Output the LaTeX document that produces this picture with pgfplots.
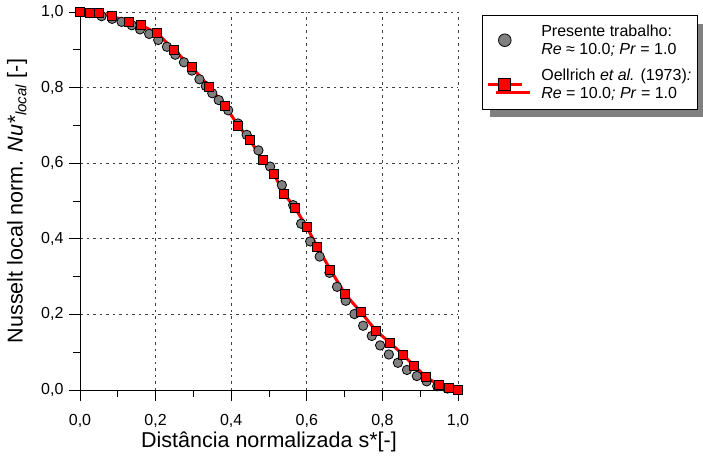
\documentclass[border=0pt]{standalone}
\usepackage{fontspec}
\setmainfont{Liberation Sans}
\usepackage{pgfplots}
\pgfplotsset{compat=1.18}
\usetikzlibrary{shadows}
\definecolor{circgray}{RGB}{128,128,128}
\definecolor{shadowgray}{RGB}{128,128,128}
\begin{document}
\begin{tikzpicture}
\begin{axis}[name=ax, scale only axis, width=378pt, height=378pt,
  xmin=0, xmax=1, ymin=0, ymax=1, clip=false,
  axis lines=left, axis line style={-, line width=1pt},
  tick align=outside, xtick pos=left, ytick pos=left,
  major tick length=11pt, minor tick length=7pt,
  tick style={black, line width=1pt},
  xtick={0,0.2,0.4,0.6,0.8,1}, ytick={0,0.2,0.4,0.6,0.8,1},
  minor xtick={0.1,0.3,0.5,0.7,0.9}, minor ytick={0.1,0.3,0.5,0.7,0.9},
  grid=major, major grid style={black!75, line width=0.8pt, dash pattern=on 2.5pt off 4pt},
  ticklabel style={font=\fontsize{16}{19}\selectfont},
  yticklabel shift=2pt, xticklabel shift=10pt,
  /pgf/number format/.cd, fixed, fixed zerofill, precision=1, use comma, assume math mode=true, /pgfplots/.cd,
  xlabel={Distância normalizada s*[-]},
  ylabel={Nusselt local norm. \textit{Nu*}\textsubscript{\textit{local}} [-]},
  every axis x label/.style={at={(axis description cs:0.5,-0.1508)}, anchor=base, font=\fontsize{21.5}{24}\selectfont},
  every axis y label/.style={at={(axis description cs:-0.1667,0.5)}, rotate=90, anchor=center, font=\fontsize{21.5}{24}\selectfont},
  legend image code/.code={\draw[mark repeat=2,mark phase=2,#1] plot coordinates {(0pt,0pt) (17pt,0pt) (34pt,0pt)};},
  legend style={at={(rel axis cs:1.063,0.992)}, anchor=north west, draw=black, line width=1pt, fill=white,
    font=\fontsize{16}{18.3}\selectfont,
    drop shadow={shadow xshift=8pt, shadow yshift=-8pt, fill=shadowgray, opacity=1},
    inner xsep=4pt, inner ysep=7pt, row sep=9pt, column sep=16pt,
    cells={align=left, anchor=west}},
  legend cell align=left,
]
\addplot[only marks, mark=*, mark size=4.7pt, mark options={fill=circgray, draw=black, line width=0.8pt},
  legend image post style={mark size=6.3pt}] coordinates {
(0.000,1.000) (0.025,0.997) (0.057,0.989) (0.085,0.982) (0.110,0.974) (0.137,0.965)
(0.159,0.954) (0.183,0.942) (0.207,0.926) (0.230,0.908) (0.252,0.887) (0.275,0.867)
(0.296,0.845) (0.316,0.822) (0.333,0.804) (0.350,0.785) (0.367,0.767) (0.392,0.740)
(0.418,0.705) (0.441,0.675) (0.472,0.634) (0.503,0.591) (0.534,0.542) (0.564,0.489)
(0.585,0.440) (0.609,0.393) (0.634,0.353) (0.660,0.310) (0.680,0.273) (0.703,0.236)
(0.726,0.201) (0.749,0.170) (0.772,0.143) (0.794,0.118) (0.817,0.094) (0.841,0.072)
(0.865,0.053) (0.891,0.037) (0.917,0.023) (0.945,0.010) (0.972,0.004) (1.000,0.000)
};
\addlegendentry{Presente trabalho:\\\textit{Re} ≈ 10.0\textit{; Pr} = 1.0}
\addplot[red, line width=3pt, mark=square*, mark size=4.5pt, mark options={fill=red, draw=black, line width=0.8pt},
  legend image post style={mark size=6pt}] coordinates {
(0.000,1.000) (0.025,0.997) (0.051,0.997) (0.084,0.989) (0.130,0.974) (0.160,0.966)
(0.204,0.944) (0.249,0.899) (0.296,0.854) (0.342,0.802) (0.384,0.751) (0.419,0.699)
(0.449,0.662) (0.483,0.609) (0.513,0.572) (0.539,0.520) (0.568,0.483) (0.600,0.431)
(0.628,0.378) (0.662,0.319) (0.701,0.254) (0.743,0.206) (0.783,0.157) (0.820,0.125)
(0.854,0.094) (0.884,0.064) (0.915,0.035) (0.949,0.013) (0.976,0.005) (1.000,0.000)
};
\addlegendentry{Oellrich \textit{et al.} (1973)\textit{:}\\\textit{Re} = 10.0\textit{; Pr} = 1.0}
\end{axis}
\pgfresetboundingbox
\path[use as bounding box] ([shift={(-80pt,-66pt)}]ax.south west) rectangle ([shift={(245pt,12pt)}]ax.north east);
\end{tikzpicture}
\end{document}
